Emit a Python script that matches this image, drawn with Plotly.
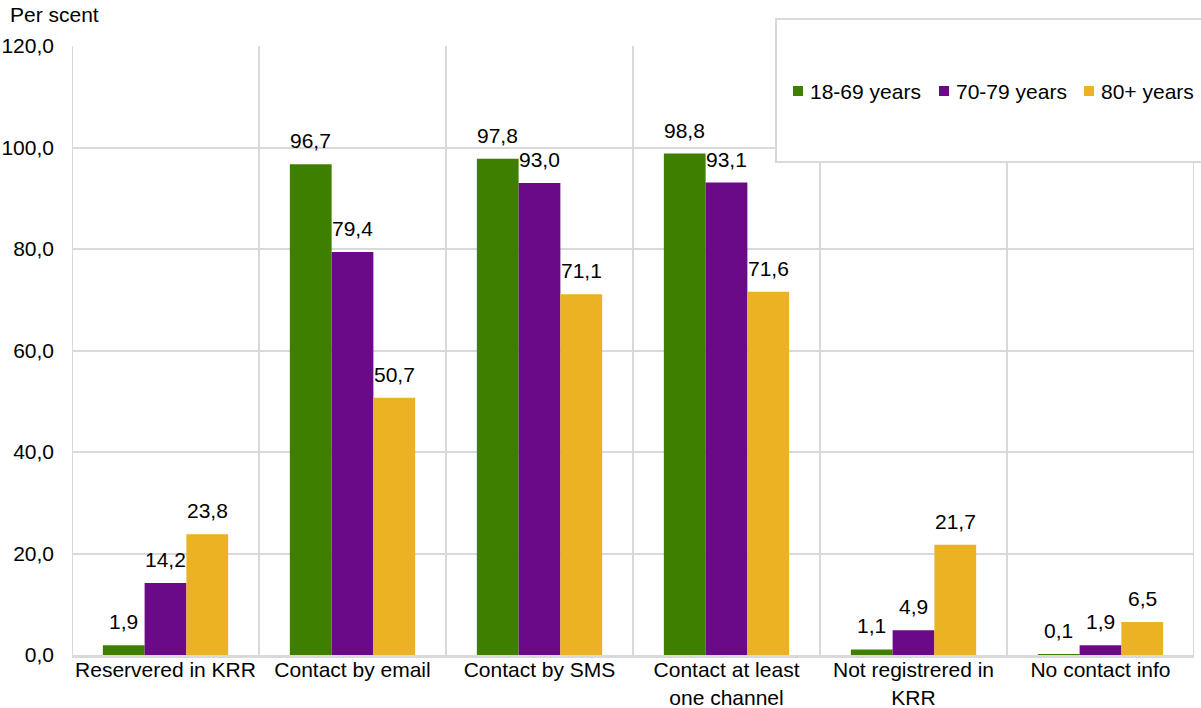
import plotly.graph_objects as go

categories = [
    "Reservered in KRR",
    "Contact by email",
    "Contact by SMS",
    "Contact at least<br>one channel",
    "Not registrered in<br>KRR",
    "No contact info",
]
series_names = ["18-69 years", "70-79 years", "80+ years"]
values_18_69 = [1.9, 96.7, 97.8, 98.8, 1.1, 0.1]
values_70_79 = [14.2, 79.4, 93.0, 93.1, 4.9, 1.9]
values_80_plus = [23.8, 50.7, 71.1, 71.6, 21.7, 6.5]
y_ticks = [0, 20, 40, 60, 80, 100, 120]

colors = ["#3f7f00", "#6a0a88", "#ebb324"]
grid = "#d9d9d9"
FONT = "Liberation Sans, Arial, sans-serif"
FS = 21

# plot area geometry (pixels)
W, H = 1201, 708
L, R, T, B = 72, 7, 46, 53
PW, PH = W - L - R, H - T - B


def px_x(px):
    return (px - L) / PW


def px_y(py):
    return (H - B - py) / PH


BARGAP = 0.33
n_series = 3
bar_w = (1 - BARGAP) / n_series

all_values = [values_18_69, values_70_79, values_80_plus]

fig = go.Figure()
annotations = []
for k, (name, vals, col) in enumerate(zip(series_names, all_values, colors)):
    fig.add_trace(go.Bar(
        name=name, x=categories, y=vals, marker=dict(color=col, line=dict(width=0)),
        showlegend=False,
    ))
    # value labels above each bar
    offset = (k - (n_series - 1) / 2) * bar_w
    for i, v in enumerate(vals):
        annotations.append(dict(
            x=i + offset, y=v, xref="x", yref="y", text=f"{v:.1f}".replace(".", ","),
            showarrow=False, xanchor="center", yanchor="bottom", yshift=10,
            font=dict(size=FS, family=FONT, color="black"),
        ))

# vertical separators between categories
shapes = []
for i in range(len(categories) + 1):
    shapes.append(dict(type="line", xref="x", yref="paper", x0=i - 0.5, x1=i - 0.5,
                       y0=0, y1=1, line=dict(color=grid, width=2), layer="below"))
# legend frame
shapes.append(dict(type="rect", xref="paper", yref="paper",
                   x0=px_x(776), x1=px_x(1206), y0=px_y(162), y1=px_y(19),
                   fillcolor="white", line=dict(color=grid, width=2), layer="above"))

# legend entries: colour swatch + series name
legend_swatch_x = [793, 939, 1084]
legend_cy = 91
for sx, name, col in zip(legend_swatch_x, series_names, colors):
    shapes.append(dict(type="rect", xref="paper", yref="paper",
                       x0=px_x(sx), x1=px_x(sx + 10), y0=px_y(legend_cy + 5), y1=px_y(legend_cy - 5),
                       fillcolor=col, line=dict(width=0), layer="above"))
    annotations.append(dict(text=name, xref="paper", yref="paper", x=px_x(sx + 15), y=px_y(legend_cy),
                            xanchor="left", yanchor="middle", showarrow=False,
                            font=dict(size=FS, family=FONT, color="black")))

annotations.append(dict(text="Per scent", xref="paper", yref="paper", x=px_x(8), y=px_y(15),
                        xanchor="left", yanchor="middle", showarrow=False,
                        font=dict(size=FS, family=FONT, color="black")))

fig.update_layout(
    width=W, height=H,
    margin=dict(l=L, r=R, t=T, b=B, autoexpand=False),
    paper_bgcolor="white", plot_bgcolor="white",
    separators=",.",
    barmode="group", bargap=BARGAP, bargroupgap=0,
    font=dict(family=FONT, size=FS, color="black"),
    showlegend=False,
    shapes=shapes,
    annotations=annotations,
)
fig.update_xaxes(range=[-0.5, 5.5], showgrid=False, showline=True, linecolor=grid, linewidth=3,
                 ticks="", automargin=False, ticklabelstandoff=-6,
                 tickfont=dict(size=FS, family=FONT, color="black"))
fig.update_yaxes(range=[0, 120], tickvals=y_ticks, tickformat=".1f", showgrid=True, gridcolor=grid,
                 gridwidth=2, zeroline=False, showline=False, ticks="", automargin=False,
                 ticklabelstandoff=17,
                 tickfont=dict(size=FS, family=FONT, color="black"))

fig.write_html("out.html")
